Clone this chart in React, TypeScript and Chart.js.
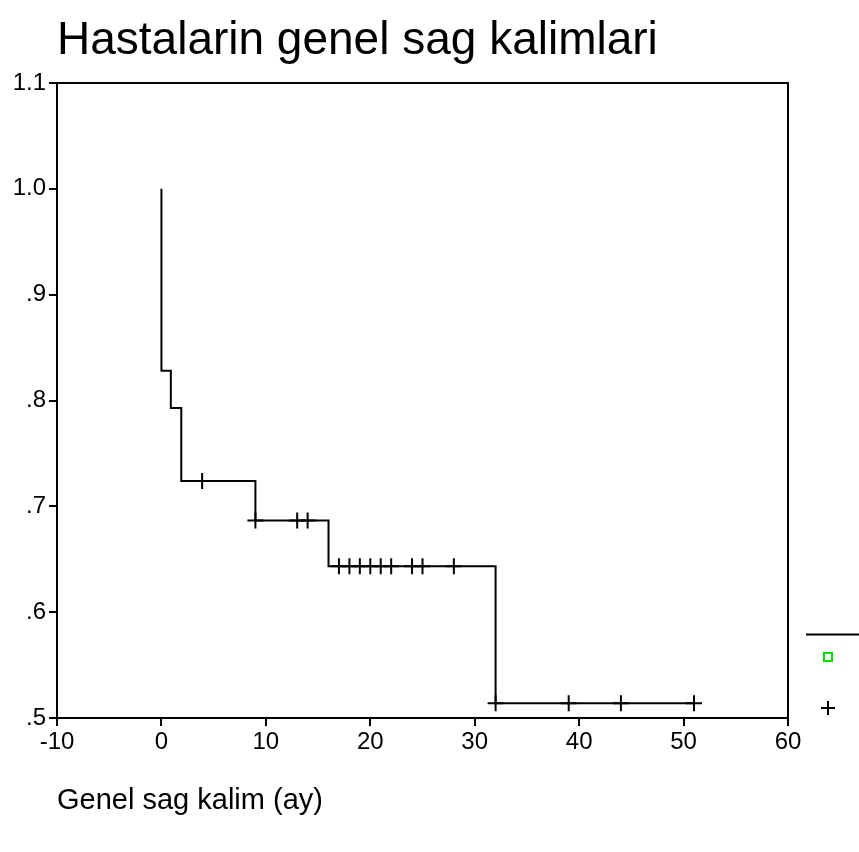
import React, { useEffect, useRef } from 'react';
import { Chart, registerables } from 'chart.js';

Chart.register(...registerables);

// Kaplan-Meier step data (time in months, survival proportion)
const stepTimes = [0, 0, 0.9, 1.9, 9, 16, 32, 51];
const stepSurvival = [1.0, 0.828, 0.793, 0.724, 0.6865, 0.6435, 0.514, 0.514];
// Censored observations (months)
const censorTimes = [3.9, 9, 13, 14, 17, 18, 19, 20, 21, 22, 24, 25, 28, 32, 39, 44, 51];
// Axis ticks
const xTickValues = [-10, 0, 10, 20, 30, 40, 50, 60];
const yTickValues = [0.5, 0.6, 0.7, 0.8, 0.9, 1.0, 1.1];

const titleText = 'Hastalarin genel sag kalimlari';
const xAxisTitle = 'Genel sag kalim (ay)';

const FONT = '"Liberation Sans", Arial, sans-serif';

function survivalAt(t: number): number {
  let s = stepSurvival[0];
  for (let i = 0; i < stepTimes.length; i++) {
    if (stepTimes[i] <= t) s = stepSurvival[i];
  }
  return s;
}

const framePlugin = {
  id: 'frameAndText',
  afterDraw(chart: any) {
    const { ctx, chartArea } = chart;
    ctx.save();
    // frame (top + right)
    ctx.strokeStyle = '#000';
    ctx.lineWidth = 2;
    ctx.beginPath();
    ctx.moveTo(chartArea.left, chartArea.top);
    ctx.lineTo(chartArea.right, chartArea.top);
    ctx.lineTo(chartArea.right, chartArea.bottom);
    ctx.stroke();
    // title
    ctx.fillStyle = '#000';
    ctx.font = `46px ${FONT}`;
    ctx.textAlign = 'left';
    ctx.textBaseline = 'alphabetic';
    ctx.fillText(titleText, 57, 54);
    // legend symbols at right
    ctx.beginPath();
    ctx.moveTo(806, 634.5);
    ctx.lineTo(859, 634.5);
    ctx.stroke();
    ctx.strokeStyle = '#00e000';
    ctx.lineWidth = 2;
    ctx.strokeRect(824, 653, 8, 8);
    ctx.strokeStyle = '#000';
    ctx.beginPath();
    ctx.moveTo(821, 708);
    ctx.lineTo(835, 708);
    ctx.moveTo(828, 701);
    ctx.lineTo(828, 715);
    ctx.stroke();
    ctx.restore();
  },
};

export default function App() {
  const ref = useRef<HTMLCanvasElement>(null);
  useEffect(() => {
    document.body.style.margin = '0';
    const canvas = ref.current;
    if (!canvas) return;
    const lineData = stepTimes.map((t, i) => ({ x: t, y: stepSurvival[i] }));
    const censorData = censorTimes.map((t) => ({ x: t, y: survivalAt(t) }));
    const chart = new Chart(canvas, {
      type: 'scatter',
      data: {
        datasets: [
          {
            type: 'line',
            label: 'Survival',
            data: lineData,
            stepped: true,
            showLine: true,
            borderColor: '#000',
            borderWidth: 2,
            pointRadius: 0,
            fill: false,
          } as any,
          {
            label: 'Censored',
            data: censorData,
            pointStyle: 'cross',
            pointRadius: 8,
            pointBorderWidth: 2,
            borderColor: '#000',
            backgroundColor: '#000',
            showLine: false,
          },
        ],
      },
      options: {
        responsive: false,
        devicePixelRatio: 1,
        animation: false,
        layout: { padding: { top: 83, right: 71, bottom: 0, left: 0 } },
        plugins: {
          legend: { display: false },
          tooltip: { enabled: false },
          title: { display: false },
        },
        scales: {
          x: {
            type: 'linear',
            min: -10,
            max: 60,
            afterBuildTicks: (scale: any) => {
              scale.ticks = xTickValues.map((v) => ({ value: v }));
            },
            afterFit: (scale: any) => {
              scale.height = 134;
            },
            grid: {
              drawOnChartArea: false,
              drawTicks: true,
              tickLength: 8,
              color: '#000',
              lineWidth: 2,
            },
            border: { display: true, color: '#000', width: 2 },
            ticks: {
              color: '#000',
              font: { family: FONT, size: 24 },
              padding: 2,
              maxRotation: 0,
              autoSkip: false,
              callback: (v: any) => String(v),
            },
            title: {
              display: true,
              text: xAxisTitle,
              align: 'start',
              color: '#000',
              font: { family: FONT, size: 29 },
              padding: { top: 0, bottom: 34 },
            },
          },
          y: {
            type: 'linear',
            min: 0.5,
            max: 1.1,
            afterBuildTicks: (scale: any) => {
              scale.ticks = yTickValues.map((v) => ({ value: v }));
            },
            afterFit: (scale: any) => {
              scale.width = 57;
            },
            grid: {
              drawOnChartArea: false,
              drawTicks: true,
              tickLength: 8,
              color: '#000',
              lineWidth: 2,
            },
            border: { display: true, color: '#000', width: 2 },
            ticks: {
              color: '#000',
              font: { family: FONT, size: 24 },
              padding: 3,
              autoSkip: false,
              callback: (v: any) => {
                const s = Number(v).toFixed(1);
                return s.startsWith('0') ? s.slice(1) : s;
              },
            },
          },
        },
      },
      plugins: [framePlugin],
    });
    return () => chart.destroy();
  }, []);
  return (
    <canvas
      ref={ref}
      width={859}
      height={852}
      style={{ display: 'block', width: 859, height: 852 }}
    />
  );
}
